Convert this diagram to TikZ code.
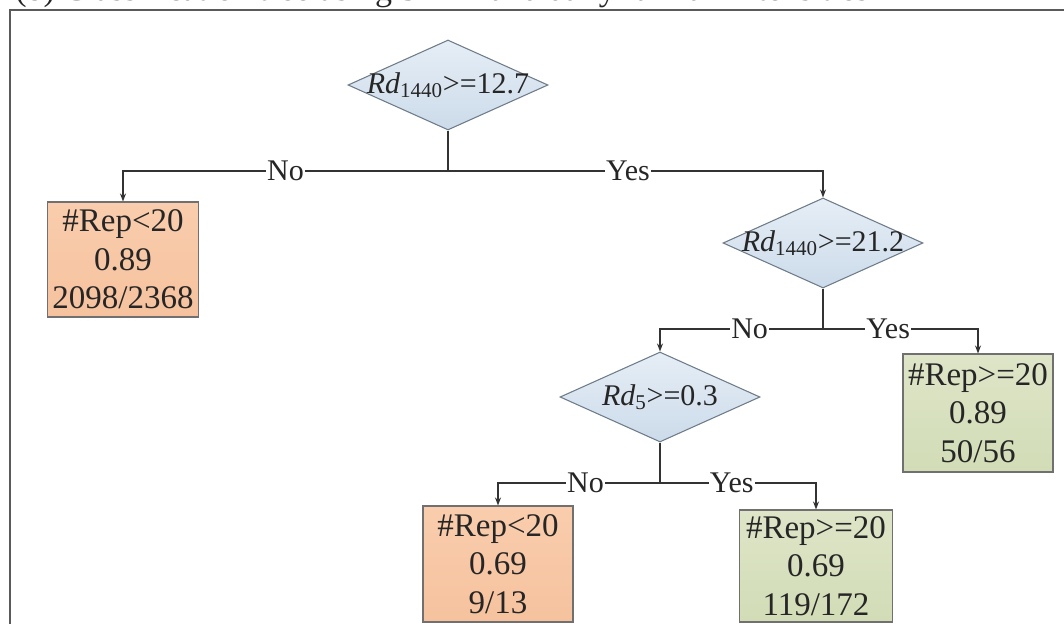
\documentclass[tikz,border=0pt]{standalone}
\usepackage{fontspec}
\setmainfont{Liberation Serif}
\usetikzlibrary{shapes.geometric,arrows.meta}
\definecolor{diatop}{HTML}{E6EEF6}
\definecolor{diabot}{HTML}{CCDBEA}
\definecolor{diaedge}{HTML}{6E7C8A}
\definecolor{ortop}{HTML}{F9CDAD}
\definecolor{orbot}{HTML}{F6C29E}
\definecolor{grtop}{HTML}{DEE5C8}
\definecolor{grbot}{HTML}{D2DCB6}
\definecolor{boxedge}{HTML}{707070}
\definecolor{linecol}{HTML}{333333}
\definecolor{framecol}{HTML}{5A5A5A}
\tikzset{
  dia/.style={diamond, draw=diaedge, line width=0.8pt, top color=diatop, bottom color=diabot,
    minimum width=150pt, minimum height=67.5pt, inner sep=0pt},
  dtext/.style={font=\fontsize{22.5}{26}\selectfont, inner sep=0pt, text=black!85},
  leafbox/.style={rectangle, draw=boxedge, line width=0.8pt, inner sep=0pt, align=center,
    font=\fontsize{24.75}{28.9}\selectfont, text=black!85},
  orbox/.style={leafbox, top color=ortop, bottom color=orbot},
  grbox/.style={leafbox, top color=grtop, bottom color=grbot},
  conn/.style={draw=linecol, line width=0.9pt},
  arr/.style={conn, -{Stealth[length=6pt, width=4.5pt]}},
  lab/.style={fill=white, inner sep=1pt, font=\fontsize{22.5}{26}\selectfont, text=black!85},
}
\begin{document}
\begin{tikzpicture}[x=0.75pt, y=-0.75pt]
\useasboundingbox (0,0) rectangle (1064,624);
\clip (0,0) rectangle (1064,624);
% title (cut off at the top)
\node[anchor=base west, inner sep=0pt, font=\fontsize{25.5}{30}\selectfont, text=black!85] (title) at (15,0.5)
  {(b) Classification tree using 5-min and daily rainfall intensities};
% frame
\draw[framecol, line width=1.5pt] (10,700) -- (10,10) -- (1120,10);

% decision nodes
\node[dia] (d1) at (448,85) {};
\node[dtext] (d1t) at (d1.center) {\textit{Rd}\textsubscript{1440}>=12.7};
\node[dia] (d2) at (823,243) {};
\node[dtext] (d2t) at (d2.center) {\textit{Rd}\textsubscript{1440}>=21.2};
\node[dia] (d3) at (660,397) {};
\node[dtext] (d3t) at (d3.center) {\textit{Rd}\textsubscript{5}>=0.3};

% leaves
\node[orbox, minimum width=113.25pt, minimum height=86.25pt] (b1) at (123,259.5) {\#Rep<20\\0.89\\2098/2368};
\node[grbox, minimum width=112.5pt, minimum height=88.5pt] (b2) at (978,413) {\#Rep>=20\\0.89\\50/56};
\node[orbox, minimum width=112.5pt, minimum height=87pt] (b3) at (498,564) {\#Rep<20\\0.69\\9/13};
\node[grbox, minimum width=114.75pt, minimum height=84pt] (b4) at (816,566) {\#Rep>=20\\0.69\\119/172};

% junctions
\coordinate (j1) at (448,171);
\coordinate (j2) at (823,329);
\coordinate (j3) at (660,483);

% connectors
\draw[conn] (d1.south) -- (j1);
\draw[arr] (j1) -- node[lab, pos=0.5] (l1n) {No} (j1 -| b1.north) -- (b1.north);
\draw[arr] (j1) -- node[lab, pos=0.48] (l1y) {Yes} (j1 -| d2.north) -- (d2.north);

\draw[conn] (d2.south) -- (j2);
\draw[arr] (j2) -- node[lab, pos=0.45] (l2n) {No} (j2 -| d3.north) -- (d3.north);
\draw[arr] (j2) -- node[lab, pos=0.42] (l2y) {Yes} (j2 -| b2.north) -- (b2.north);

\draw[conn] (d3.south) -- (j3);
\draw[arr] (j3) -- node[lab, pos=0.46] (l3n) {No} (j3 -| b3.north) -- (b3.north);
\draw[arr] (j3) -- node[lab, pos=0.46] (l3y) {Yes} (j3 -| b4.north) -- (b4.north);
\end{tikzpicture}
\end{document}
